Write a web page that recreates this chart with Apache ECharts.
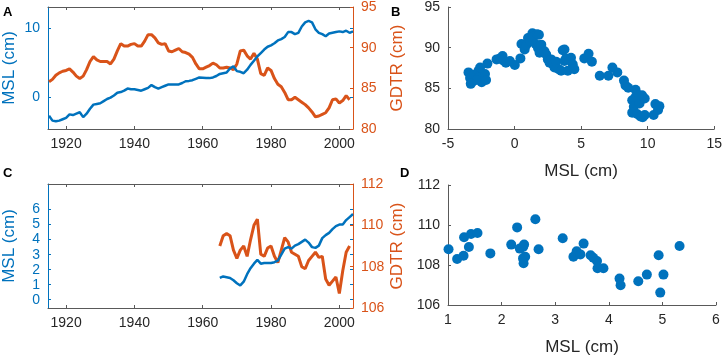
<!DOCTYPE html>
<html>
<head>
<meta charset="utf-8">
<script src="https://cdn.jsdelivr.net/npm/echarts@6/dist/echarts.min.js"></script>
<style>
  html, body { margin: 0; padding: 0; background: #fff; }
  #chart { width: 725px; height: 357px; }
</style>
</head>
<body>
<div id="chart"></div>
<script>
// Panel A: annual series, 1915 onwards
const startA = 1915
const mslA = [
  -2.6, -3.3, -3.4, -3.3, -3.1, -2.9, -2.4, -2.5, -2.3, -2.1,
  -2.8, -2.3, -1.6, -1.0, -0.9, -0.8, -0.5, -0.2, 0.0, 0.3,
  0.7, 0.8, 1.0, 1.3, 1.2, 1.2, 1.1, 1.0, 1.2, 1.4,
  1.8, 1.5, 1.3, 1.5, 1.7, 1.9, 1.9, 1.9, 1.9, 2.1,
  2.35, 2.4, 2.5, 2.7, 2.9, 2.85, 2.8, 2.8, 2.9, 3.1,
  3.4, 3.5, 3.6, 4.2, 4.5, 3.8, 3.7, 3.5, 4.0, 4.7,
  5.3, 5.9, 6.4, 6.9, 7.3, 7.5, 7.8, 8.2, 8.4, 8.7,
  9.4, 9.4, 9.1, 9.3, 10.2, 10.8, 11.0, 10.8, 9.8, 9.3,
  9.1, 8.8, 9.2, 9.3, 9.4, 9.5, 9.4, 9.6, 9.3, 9.5,
]
const gdtrA = [
  85.8, 86.1, 86.6, 86.9, 87.1, 87.2, 87.4, 87.0, 86.5, 86.2,
  86.5, 87.3, 88.3, 88.9, 88.5, 88.3, 88.3, 88.3, 88.0, 88.6,
  89.6, 90.5, 90.2, 90.2, 90.4, 90.5, 90.2, 90.2, 90.8, 91.6,
  91.6, 91.2, 90.6, 90.4, 90.5, 89.6, 89.5, 89.7, 89.9, 89.5,
  89.4, 89.2, 88.8, 88.0, 87.4, 87.4, 87.6, 87.8, 88.1, 87.9,
  87.5, 87.5, 87.6, 87.5, 87.3, 88.0, 89.6, 89.7, 89.0, 88.6,
  89.3, 88.6, 86.8, 86.6, 87.5, 87.2, 86.2, 85.5, 85.2, 84.5,
  83.6, 83.6, 83.9, 83.6, 83.3, 83.0, 82.6, 82.1, 81.5, 81.6,
  81.8, 82.0, 82.6, 83.6, 83.7, 83.2, 83.5, 84.1, 83.6,
]

// Panel B: scatter GDTR vs MSL
const mslB = [
  -3.46, -3.34, -3.21, -3.04, -2.71, -2.59, -2.47, -2.22, -2.14, -2.04,
  -2.59, -2.89, -3.29, -1.35, -1.10, -0.90, -0.85, -0.65, -0.35, 0.02,
  0.44, 0.52, 0.76, 0.89, 1.01, 1.19, 1.34, 1.43, 1.58, 1.68,
  1.76, 1.83, 1.88, 2.01, 2.25, 2.38, 2.50, 2.63, 2.75, 2.88,
  3.00, 3.12, 3.32, 3.50, 3.62, 3.75, 3.75, 3.87, 4.00, 4.24,
  4.37, 4.49, 5.24, 5.56, 5.81, 6.40, 7.05, 7.35, 7.72, 8.22,
  8.34, 8.54, 9.09, 9.09, 9.21, 8.84, 8.96, 8.84, 9.21, 9.46,
  9.63, 9.39, 9.58, 9.78, 9.78, 10.45, 10.58, 10.88, 10.78, 9.34,
]
const gdtrB = [
  86.96, 86.27, 85.75, 86.67, 87.16, 86.43, 85.75, 86.76, 86.03, 88.04,
  87.56, 86.03, 85.55, 88.56, 88.68, 88.97, 88.44, 88.16, 88.36, 87.88,
  88.68, 90.45, 89.77, 90.37, 91.18, 90.78, 91.78, 91.38, 90.45, 91.66,
  89.97, 91.58, 89.37, 90.37, 89.57, 89.17, 88.56, 88.16, 88.56, 87.96,
  87.56, 88.28, 87.36, 87.16, 89.69, 89.77, 88.36, 88.68, 87.16, 88.77,
  87.96, 87.36, 88.68, 89.25, 88.28, 86.55, 86.55, 87.56, 86.96, 85.95,
  85.35, 85.07, 84.83, 83.94, 83.34, 83.54, 82.73, 82.01, 81.85, 81.53,
  81.45, 83.14, 84.14, 83.74, 81.73, 81.73, 83.06, 82.81, 82.33, 84.14,
]

// Panel C: annual series from 1965
const startC = 1965
const mslC = [
  1.45, 1.55, 1.5, 1.45, 1.3, 1.1, 0.95, 1.2, 1.7, 2.1,
  2.4, 2.65, 2.4, 2.45, 2.45, 2.45, 2.5, 2.6, 3.0, 3.4,
  3.5, 3.4, 3.6, 3.7, 3.85, 4.0, 3.8, 3.5, 3.45, 3.6,
  4.1, 4.3, 4.45, 4.7, 4.9, 5.0, 5.0, 5.3, 5.5, 5.7,
]
const gdtrC = [
  109.0, 109.5, 109.6, 109.5, 108.8, 108.4, 108.8, 109.0, 108.5, 109.3,
  110.0, 110.3, 108.6, 108.5, 108.9, 109.0, 108.5, 108.2, 108.8, 109.4,
  109.2, 108.7, 108.6, 108.5, 108.0, 107.9, 108.3, 108.5, 108.7, 108.45,
  108.5, 107.4, 107.1, 107.3, 107.5, 106.7, 107.8, 108.7, 109.0,
]

// Panel D: scatter GDTR vs MSL
const mslD = [
  1.01, 1.17, 1.29, 1.30, 1.39, 1.43, 1.55, 1.79, 2.18, 2.29,
  2.34, 2.40, 2.42, 2.40, 2.44, 2.41, 2.63, 2.69, 3.14, 3.34,
  3.40, 3.47, 3.53, 3.66, 3.71, 3.78, 3.79, 3.90, 4.20, 4.22,
  4.55, 4.71, 4.93, 5.02, 4.96, 5.32,
]
const gdtrD = [
  108.79, 108.30, 108.46, 109.39, 108.90, 109.55, 109.60, 108.58, 109.02, 109.88,
  108.82, 108.90, 109.02, 108.33, 108.41, 108.09, 110.29, 108.79, 109.34, 108.41,
  108.69, 108.53, 109.07, 108.49, 108.36, 108.20, 107.84, 107.84, 107.32, 106.99,
  107.19, 107.52, 108.49, 107.52, 106.62, 108.95,
]

const yearTicks = [1920, 1940, 1960, 1980, 2000]

const BLUE = '#0072BD'
const ORANGE = '#D95319'
const GRAY = '#262626'
const LINE = '#595959'
const FONT = 'Liberation Sans, Arial, sans-serif'

const toPairs = (start, vals) => vals.map((v, i) => [start + i, v])
const toXY = (xs, ys) => xs.map((x, i) => [x, ys[i]])

const tickLabel = (color) => ({
  color, fontSize: 14, fontFamily: FONT, margin: 8,
  formatter: (v) => String(v),
})

function timeAxis(gridIndex, custom) {
  return {
    type: 'value', gridIndex, min: 1914.7, max: 2004,
    axisLine: { onZero: false, lineStyle: { color: LINE } },
    axisTick: { inside: true, length: 3, lineStyle: { color: LINE }, customValues: custom },
    axisLabel: { ...tickLabel(GRAY), customValues: custom },
    splitLine: { show: false },
  }
}

function topAxis(gridIndex, custom) {
  return {
    type: 'value', gridIndex, position: 'top', min: 1914.7, max: 2004,
    axisLine: { onZero: false, lineStyle: { color: LINE } },
    axisTick: { inside: true, length: 3, lineStyle: { color: LINE }, customValues: custom },
    axisLabel: { show: false, customValues: custom },
    splitLine: { show: false },
  }
}

function sideAxis(gridIndex, pos, min, max, color, ticks, name, gap) {
  return {
    type: 'value', gridIndex, position: pos, min, max,
    name, nameLocation: 'middle', nameGap: gap,
    nameTextStyle: { color, fontSize: 17, fontFamily: FONT },
    axisLine: { show: true, onZero: false, lineStyle: { color } },
    axisTick: { show: true, inside: true, length: 3, lineStyle: { color }, customValues: ticks },
    axisLabel: { ...tickLabel(color), customValues: ticks },
    splitLine: { show: false },
  }
}

// mirrored ticks of the left axis, drawn on the right edge
function mirrorAxis(gridIndex, min, max, color, ticks) {
  return {
    type: 'value', gridIndex, position: 'right', min, max,
    axisLine: { show: false, onZero: false },
    axisTick: { show: true, inside: true, length: 3, lineStyle: { color }, customValues: ticks },
    axisLabel: { show: false, customValues: ticks },
    splitLine: { show: false },
  }
}

function plainAxis(gridIndex, min, max, interval, name, gap) {
  const ax = {
    type: 'value', gridIndex, min, max, interval,
    axisLine: { show: true, onZero: false, lineStyle: { color: LINE } },
    axisTick: { show: true, inside: true, length: 3, lineStyle: { color: LINE } },
    axisLabel: tickLabel(GRAY),
    splitLine: { show: false },
  }
  if (name) {
    ax.name = name
    ax.nameLocation = 'middle'
    ax.nameGap = gap
    ax.nameTextStyle = { color: GRAY, fontSize: 17, fontFamily: FONT }
  }
  return ax
}

const letter = (text, x, y) => ({
  type: 'text', left: x, top: y,
  style: { text, fontSize: 13, fontWeight: 'bold', fontFamily: FONT, fill: '#000' },
})

const chart = echarts.init(document.getElementById('chart'), null, { renderer: 'canvas' })

chart.setOption({
  animation: false,
  backgroundColor: '#fff',
  grid: [
    { left: 45, top: 4, width: 308, height: 125 },
    { left: 448, top: 4, width: 268, height: 125 },
    { left: 45, top: 184, width: 308, height: 124 },
    { left: 448, top: 185, width: 268, height: 123 },
  ],
  xAxis: [
    timeAxis(0, yearTicks),                    // 0 A bottom
    topAxis(0, yearTicks),                     // 1 A top
    plainAxis(1, -5, 15, 5, 'MSL (cm)', 34),   // 2 B
    timeAxis(2, yearTicks),                    // 3 C bottom
    topAxis(2, yearTicks),                     // 4 C top
    plainAxis(3, 1, 6, 1, 'MSL (cm)', 34),     // 5 D
  ],
  yAxis: [
    sideAxis(0, 'left', -4.5, 13, BLUE, [0, 10], 'MSL (cm)', 30),               // 0
    sideAxis(0, 'right', 80, 95, ORANGE, [80, 85, 90, 95], 'GDTR (cm)', 36),    // 1
    plainAxis(1, 80, 95, 5),                                                      // 2
    sideAxis(2, 'left', -0.55, 7.7, BLUE, [0, 1, 2, 3, 4, 5, 6], 'MSL (cm)', 30), // 3
    sideAxis(2, 'right', 106, 112, ORANGE, [106, 108, 110, 112], 'GDTR (cm)', 36), // 4
    plainAxis(3, 106, 112, 2),                                                    // 5
    mirrorAxis(0, -4.5, 13, BLUE, [0, 10]),                                        // 6
    mirrorAxis(2, -0.55, 7.7, BLUE, [0, 1, 2, 3, 4, 5, 6]),                        // 7
  ],
  graphic: [
    letter('A', 3, 6),
    letter('B', 391, 6),
    letter('C', 3, 167),
    letter('D', 400, 167),
  ],
  series: [
    {
      type: 'line', xAxisIndex: 0, yAxisIndex: 1, data: toPairs(startA, gdtrA),
      showSymbol: false, lineStyle: { color: ORANGE, width: 3 }, z: 2,
    },
    {
      type: 'line', xAxisIndex: 0, yAxisIndex: 0, data: toPairs(startA, mslA),
      showSymbol: false, lineStyle: { color: BLUE, width: 2.5 }, z: 3,
    },
    {
      type: 'scatter', xAxisIndex: 2, yAxisIndex: 2, data: toXY(mslB, gdtrB),
      symbolSize: 10, itemStyle: { color: BLUE, opacity: 1 },
    },
    {
      type: 'line', xAxisIndex: 3, yAxisIndex: 4, data: toPairs(startC, gdtrC),
      showSymbol: false, lineStyle: { color: ORANGE, width: 3 }, z: 2,
    },
    {
      type: 'line', xAxisIndex: 3, yAxisIndex: 3, data: toPairs(startC, mslC),
      showSymbol: false, lineStyle: { color: BLUE, width: 2.5 }, z: 3,
    },
    {
      type: 'scatter', xAxisIndex: 5, yAxisIndex: 5, data: toXY(mslD, gdtrD),
      symbolSize: 10, itemStyle: { color: BLUE, opacity: 1 },
    },
  ],
})
</script>
</body>
</html>
